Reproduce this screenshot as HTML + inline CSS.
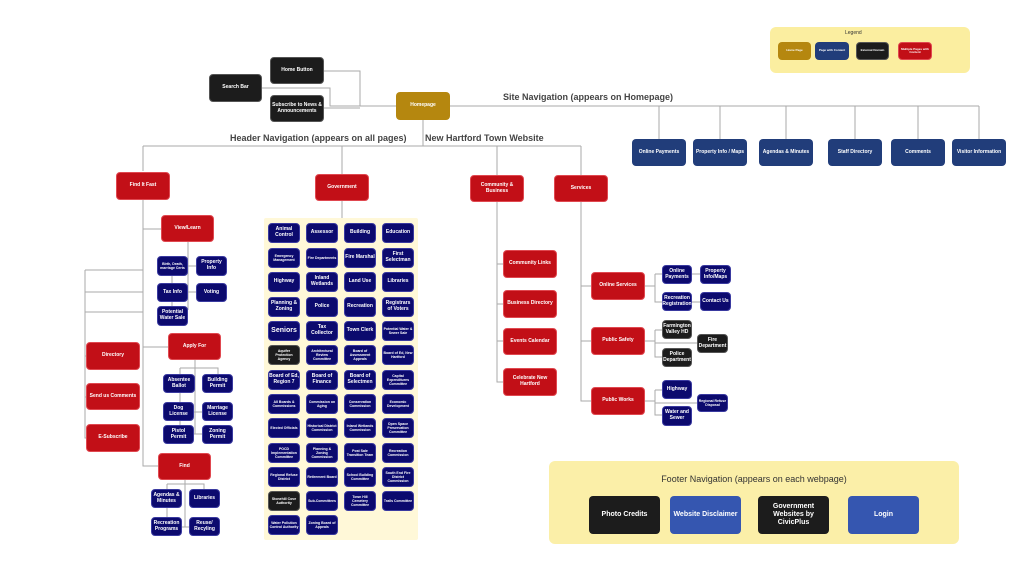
<!DOCTYPE html>
<html><head><meta charset="utf-8">
<style>
*{margin:0;padding:0;box-sizing:border-box}
body{width:1024px;height:563px;background:#fff;position:relative;overflow:hidden;font-family:"Liberation Sans",sans-serif}
.b{position:absolute;display:flex;align-items:center;justify-content:center;text-align:center;color:#fff;font-weight:bold;font-size:5px;line-height:1.15;border-radius:4px;padding:1px}
.r{background:#c20f17;border:1px solid #e04850}
.n{background:#0c0a6e;border:1px solid #3a3aa0;font-size:5px;padding:0}
.k{background:#1c1c1c;border:1px solid #555}
.s{background:#213d7a}
.g{background:#b5870f}
.t{position:absolute;font-weight:bold;color:#444;font-size:9px;white-space:nowrap}
.bg{position:absolute;border-radius:6px}
svg{position:absolute;left:0;top:0}
</style></head><body>
<div class="bg" style="left:770px;top:27px;width:200px;height:46px;background:#fbeea0"></div>
<div class="bg" style="left:264px;top:218px;width:154px;height:322px;background:#fff8d8;border-radius:2px"></div>
<div class="bg" style="left:549px;top:461px;width:410px;height:83px;background:#fbefa8"></div>
<svg width="1024" height="563" fill="none" stroke="#aaa" stroke-width="1">
<path d="M324 71H360V106M262 88H330V106H396M324 108H360"/>
<path d="M450 106H979M659 106V139M720 106V139M786 106V139M855 106V139M918 106V139M979 106V139"/>
<path d="M423 120V146M143 146H581M143 146V171M342 146V174M497 146V175M581 146V175"/>
<path d="M143 200V466H158M143 229H161M143 347H168M85 270H143M85 292H143M85 312H143M85 270V438H86M85 356H86M85 397H86"/>
<path d="M188 242V310M188 266H196M188 292H196M172 276V283M172 302V306"/>
<path d="M195 360V434M180 368H218V374M180 368V374M194 412H202M194 434H202M180 393V402M180 421V425"/>
<path d="M185 480V527M167 484H204V489M167 484V489M182 527H189M167 508V517"/>
<path d="M342 201V218"/>
<path d="M497 202V382H503M497 264H503M497 304H503M497 341H503"/>
<path d="M581 202V401H591M581 286H591M581 341H591"/>
<path d="M645 286H655M655 274V302H662M655 274H662M692 274H700M692 302H700"/>
<path d="M645 341H655M655 330V357H662M655 330H662M655 343H697"/>
<path d="M645 401H655M655 390V415H662M655 390H662M655 403H697"/>
</svg>
<div class="b g" style="left:396px;top:92px;width:54px;height:28px">Homepage</div>
<div class="b k" style="left:270px;top:57px;width:54px;height:27px">Home Button</div>
<div class="b k" style="left:209px;top:74px;width:53px;height:28px">Search Bar</div>
<div class="b k" style="left:270px;top:95px;width:54px;height:27px">Subscribe to News &amp; Announcements</div>
<div class="t" style="left:503px;top:92px">Site Navigation (appears on Homepage)</div>
<div class="t" style="left:230px;top:133px">Header Navigation (appears on all pages)</div>
<div class="t" style="left:425px;top:133px">New Hartford Town Website</div>
<div class="b s" style="left:632px;top:139px;width:54px;height:27px">Online Payments</div>
<div class="b s" style="left:693px;top:139px;width:54px;height:27px">Property Info / Maps</div>
<div class="b s" style="left:759px;top:139px;width:54px;height:27px">Agendas &amp; Minutes</div>
<div class="b s" style="left:828px;top:139px;width:54px;height:27px">Staff Directory</div>
<div class="b s" style="left:891px;top:139px;width:54px;height:27px">Comments</div>
<div class="b s" style="left:952px;top:139px;width:54px;height:27px">Visitor Information</div>
<div class="t" style="left:845px;top:30px;font-size:5px;font-weight:normal;color:#333">Legend</div>
<div class="b g" style="left:778px;top:42px;width:33px;height:18px;font-size:3px">Home Page</div>
<div class="b s" style="left:815px;top:42px;width:34px;height:18px;font-size:3px">Page with Content</div>
<div class="b k" style="left:856px;top:42px;width:33px;height:18px;font-size:3px">External Domain</div>
<div class="b r" style="left:898px;top:42px;width:34px;height:18px;font-size:3px">Multiple Pages with Content</div>
<div class="b r" style="left:116px;top:172px;width:54px;height:28px">Find It Fast</div>
<div class="b r" style="left:315px;top:174px;width:54px;height:27px">Government</div>
<div class="b r" style="left:470px;top:175px;width:54px;height:27px">Community &amp; Business</div>
<div class="b r" style="left:554px;top:175px;width:54px;height:27px">Services</div>
<div class="b r" style="left:161px;top:215px;width:53px;height:27px">View/Learn</div>
<div class="b n" style="left:157px;top:256px;width:31px;height:20px;font-size:3.5px">Birth, Death, marriage Certs</div>
<div class="b n" style="left:196px;top:256px;width:31px;height:20px">Property Info</div>
<div class="b n" style="left:157px;top:283px;width:31px;height:19px">Tax Info</div>
<div class="b n" style="left:196px;top:283px;width:31px;height:19px">Voting</div>
<div class="b n" style="left:157px;top:306px;width:31px;height:20px">Potential Water Sale</div>
<div class="b r" style="left:86px;top:342px;width:54px;height:28px">Directory</div>
<div class="b r" style="left:86px;top:383px;width:54px;height:27px">Send us Comments</div>
<div class="b r" style="left:86px;top:424px;width:54px;height:28px">E-Subscribe</div>
<div class="b r" style="left:168px;top:333px;width:53px;height:27px">Apply For</div>
<div class="b n" style="left:163px;top:374px;width:32px;height:19px">Absentee Ballot</div>
<div class="b n" style="left:202px;top:374px;width:31px;height:19px">Building Permit</div>
<div class="b n" style="left:163px;top:402px;width:31px;height:19px">Dog License</div>
<div class="b n" style="left:202px;top:402px;width:31px;height:19px">Marriage License</div>
<div class="b n" style="left:163px;top:425px;width:31px;height:19px">Pistol Permit</div>
<div class="b n" style="left:202px;top:425px;width:31px;height:19px">Zoning Permit</div>
<div class="b r" style="left:158px;top:453px;width:53px;height:27px">Find</div>
<div class="b n" style="left:151px;top:489px;width:31px;height:19px">Agendas &amp; Minutes</div>
<div class="b n" style="left:189px;top:489px;width:31px;height:19px">Libraries</div>
<div class="b n" style="left:151px;top:517px;width:31px;height:19px">Recreation Programs</div>
<div class="b n" style="left:189px;top:517px;width:31px;height:19px">Reuse/ Recyling</div>

<div class="b n" style="left:268px;top:223px;width:32px;height:20px">Animal Control</div>
<div class="b n" style="left:306px;top:223px;width:32px;height:20px">Assessor</div>
<div class="b n" style="left:344px;top:223px;width:32px;height:20px">Building</div>
<div class="b n" style="left:382px;top:223px;width:32px;height:20px">Education</div>
<div class="b n" style="left:268px;top:248px;width:32px;height:20px;font-size:3.5px">Emergency Management</div>
<div class="b n" style="left:306px;top:248px;width:32px;height:20px;font-size:3.5px">Fire Departments</div>
<div class="b n" style="left:344px;top:248px;width:32px;height:20px">Fire Marshal</div>
<div class="b n" style="left:382px;top:248px;width:32px;height:20px">First Selectman</div>
<div class="b n" style="left:268px;top:272px;width:32px;height:20px">Highway</div>
<div class="b n" style="left:306px;top:272px;width:32px;height:20px">Inland Wetlands</div>
<div class="b n" style="left:344px;top:272px;width:32px;height:20px">Land Use</div>
<div class="b n" style="left:382px;top:272px;width:32px;height:20px">Libraries</div>
<div class="b n" style="left:268px;top:297px;width:32px;height:20px">Planning &amp; Zoning</div>
<div class="b n" style="left:306px;top:297px;width:32px;height:20px">Police</div>
<div class="b n" style="left:344px;top:297px;width:32px;height:20px">Recreation</div>
<div class="b n" style="left:382px;top:297px;width:32px;height:20px">Registrars of Voters</div>
<div class="b n" style="left:268px;top:321px;width:32px;height:20px;font-size:7px">Seniors</div>
<div class="b n" style="left:306px;top:321px;width:32px;height:20px">Tax Collector</div>
<div class="b n" style="left:344px;top:321px;width:32px;height:20px">Town Clerk</div>
<div class="b n" style="left:382px;top:321px;width:32px;height:20px;font-size:3.5px">Potential Water &amp; Sewer Sale</div>
<div class="b k" style="left:268px;top:345px;width:32px;height:20px;font-size:3.5px">Aquifer Protection Agency</div>
<div class="b n" style="left:306px;top:345px;width:32px;height:20px;font-size:3.5px">Architectural Review Committee</div>
<div class="b n" style="left:344px;top:345px;width:32px;height:20px;font-size:3.5px">Board of Assessment Appeals</div>
<div class="b n" style="left:382px;top:345px;width:32px;height:20px;font-size:3.5px">Board of Ed, New Hartford</div>
<div class="b n" style="left:268px;top:370px;width:32px;height:20px">Board of Ed, Region 7</div>
<div class="b n" style="left:306px;top:370px;width:32px;height:20px">Board of Finance</div>
<div class="b n" style="left:344px;top:370px;width:32px;height:20px">Board of Selectmen</div>
<div class="b n" style="left:382px;top:370px;width:32px;height:20px;font-size:3.5px">Capital Expenditures Committee</div>
<div class="b n" style="left:268px;top:394px;width:32px;height:20px;font-size:3.5px">All Boards &amp; Commissions</div>
<div class="b n" style="left:306px;top:394px;width:32px;height:20px;font-size:3.5px">Commission on Aging</div>
<div class="b n" style="left:344px;top:394px;width:32px;height:20px;font-size:3.5px">Conservation Commission</div>
<div class="b n" style="left:382px;top:394px;width:32px;height:20px;font-size:3.5px">Economic Development</div>
<div class="b n" style="left:268px;top:418px;width:32px;height:20px;font-size:3.5px">Elected Officials</div>
<div class="b n" style="left:306px;top:418px;width:32px;height:20px;font-size:3.5px">Historical District Commission</div>
<div class="b n" style="left:344px;top:418px;width:32px;height:20px;font-size:3.5px">Inland Wetlands Commission</div>
<div class="b n" style="left:382px;top:418px;width:32px;height:20px;font-size:3.5px">Open Space Preservation Committee</div>
<div class="b n" style="left:268px;top:443px;width:32px;height:20px;font-size:3.5px">POCD Implementation Committee</div>
<div class="b n" style="left:306px;top:443px;width:32px;height:20px;font-size:3.5px">Planning &amp; Zoning Commission</div>
<div class="b n" style="left:344px;top:443px;width:32px;height:20px;font-size:3.5px">Post Sale Transition Team</div>
<div class="b n" style="left:382px;top:443px;width:32px;height:20px;font-size:3.5px">Recreation Commission</div>
<div class="b n" style="left:268px;top:467px;width:32px;height:20px;font-size:3.5px">Regional Refuse District</div>
<div class="b n" style="left:306px;top:467px;width:32px;height:20px;font-size:3.5px">Retirement Board</div>
<div class="b n" style="left:344px;top:467px;width:32px;height:20px;font-size:3.5px">School Building Committee</div>
<div class="b n" style="left:382px;top:467px;width:32px;height:20px;font-size:3.5px">South End Fire District Commission</div>
<div class="b k" style="left:268px;top:491px;width:32px;height:20px;font-size:3.5px">Stonehill Cove Authority</div>
<div class="b n" style="left:306px;top:491px;width:32px;height:20px;font-size:3.5px">Sub-Committees</div>
<div class="b n" style="left:344px;top:491px;width:32px;height:20px;font-size:3.5px">Town Hill Cemetery Committee</div>
<div class="b n" style="left:382px;top:491px;width:32px;height:20px;font-size:3.5px">Trails Committee</div>
<div class="b n" style="left:268px;top:515px;width:32px;height:20px;font-size:3.5px">Water Pollution Control Authority</div>
<div class="b n" style="left:306px;top:515px;width:32px;height:20px;font-size:3.5px">Zoning Board of Appeals</div>

<div class="b r" style="left:503px;top:250px;width:54px;height:28px">Community Links</div>
<div class="b r" style="left:503px;top:290px;width:54px;height:28px">Business Directory</div>
<div class="b r" style="left:503px;top:328px;width:54px;height:27px">Events Calendar</div>
<div class="b r" style="left:503px;top:368px;width:54px;height:28px">Celebrate New Hartford</div>
<div class="b r" style="left:591px;top:272px;width:54px;height:28px">Online Services</div>
<div class="b r" style="left:591px;top:327px;width:54px;height:28px">Public Safety</div>
<div class="b r" style="left:591px;top:387px;width:54px;height:28px">Public Works</div>
<div class="b n" style="left:662px;top:265px;width:30px;height:19px">Online Payments</div>
<div class="b n" style="left:700px;top:265px;width:31px;height:19px">Property Info/Maps</div>
<div class="b n" style="left:662px;top:292px;width:30px;height:19px">Recreation Registration</div>
<div class="b n" style="left:700px;top:292px;width:31px;height:19px">Contact Us</div>
<div class="b k" style="left:662px;top:320px;width:30px;height:19px">Farmington Valley HD</div>
<div class="b k" style="left:662px;top:348px;width:30px;height:19px">Police Department</div>
<div class="b k" style="left:697px;top:334px;width:31px;height:19px">Fire Department</div>
<div class="b n" style="left:662px;top:380px;width:30px;height:19px">Highway</div>
<div class="b n" style="left:662px;top:406px;width:30px;height:20px">Water and Sewer</div>
<div class="b n" style="left:697px;top:394px;width:31px;height:18px;font-size:3.5px">Regional Refuse Disposal</div>

<div class="t" style="left:549px;top:474px;width:410px;text-align:center;font-weight:normal;color:#333;font-size:9px">Footer Navigation (appears on each webpage)</div>
<div class="b k" style="left:589px;top:496px;width:71px;height:38px;font-size:7px;border:none">Photo Credits</div>
<div class="b" style="left:670px;top:496px;width:71px;height:38px;font-size:7px;background:#3556b0">Website Disclaimer</div>
<div class="b k" style="left:758px;top:496px;width:71px;height:38px;font-size:7px;border:none">Government Websites by CivicPlus</div>
<div class="b" style="left:848px;top:496px;width:71px;height:38px;font-size:7px;background:#3556b0">Login</div>
</body></html>
